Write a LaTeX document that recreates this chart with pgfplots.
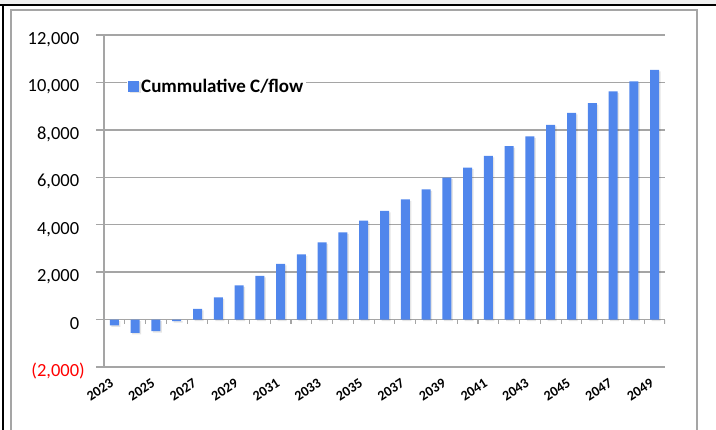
\documentclass[border=0pt]{standalone}
\usepackage{pgfplots}
\pgfplotsset{compat=1.18}
\usepackage{fontspec}
\setmainfont{Carlito}
\definecolor{barblue}{RGB}{80,134,236}
\definecolor{gridgray}{RGB}{165,165,165}
\begin{document}
\begin{tikzpicture}[x=1pt,y=1pt]
\useasboundingbox (0,0) rectangle (716,430);
\fill[black!6] (0,426) rectangle (716,430);
\draw[line width=2.5pt] (0,425) -- (716,425);
\draw[line width=2.5pt] (3,425) -- (3,0);
\draw[gridgray, line width=1.5pt] (11,0) -- (11,420) -- (697,420) -- (697,0);
\begin{axis}[
  at={(104pt,63pt)}, anchor=south west,
  scale only axis, width=561pt, height=332pt,
  xmin=-0.5, xmax=26.5, ymin=-2000, ymax=12000,
  scaled y ticks=false,
  axis x line*=bottom, axis y line*=left,
  axis line style={gridgray, line width=1.5pt, -},
  ymajorgrids, grid style={gridgray, line width=1.5pt},
  ytick={-2000,0,2000,4000,6000,8000,10000,12000},
  yticklabels={{\textcolor{red}{(2,000)}},{0\phantom{)}},{2,000\phantom{)}},{4,000\phantom{)}},{6,000\phantom{)}},{8,000\phantom{)}},{10,000\phantom{)}},{12,000\phantom{)}}},
  ytick style={gridgray, line width=1.5pt},
  tick align=outside,
  major tick length=8pt,
  yticklabel style={font=\fontsize{18.5}{22}\selectfont, anchor=base east, inner sep=0pt, xshift=-11pt, yshift=-9.5pt},
  xtick={0,2,...,26},
  xticklabels={2023,2025,2027,2029,2031,2033,2035,2037,2039,2041,2043,2045,2047,2049},
  x tick style={draw=none},
  xticklabel style={font=\bfseries\fontsize{14}{16}\selectfont, xshift=-5pt, yshift=-3pt, rotate=33, anchor=north east, inner sep=0pt},
  legend style={at={(rel axis cs:0.041,0.846)}, anchor=west, draw=none, fill=white, inner sep=1pt, font=\bfseries\fontsize{19}{22}\selectfont, nodes={inner sep=2pt}},
  legend image code/.code={\fill[barblue] (0pt,-5.5pt) rectangle (11pt,5.5pt);},
]
\addplot[ybar, bar width=9pt, fill=barblue, draw=none,
  preaction={fill=black, opacity=0.10, transform canvas={xshift=1.5pt, yshift=-1.5pt}}]
  coordinates {
  (0,-250) (1,-560) (2,-490) (3,-70) (4,450) (5,940) (6,1440) (7,1840)
  (8,2350) (9,2750) (10,3250) (11,3680) (12,4170) (13,4580) (14,5070)
  (15,5490) (16,5990) (17,6410) (18,6900) (19,7310) (20,7720) (21,8210)
  (22,8720) (23,9130) (24,9620) (25,10040) (26,10530)
  };
\addlegendentry{Cummulative C/flow}
\pgfplotsinvokeforeach{-0.5,0.5,...,26.5}{
  \draw[gridgray, line width=1.2pt] (axis cs:#1,0) -- ++(0pt,-4pt);
}
\end{axis}
\end{tikzpicture}
\end{document}
